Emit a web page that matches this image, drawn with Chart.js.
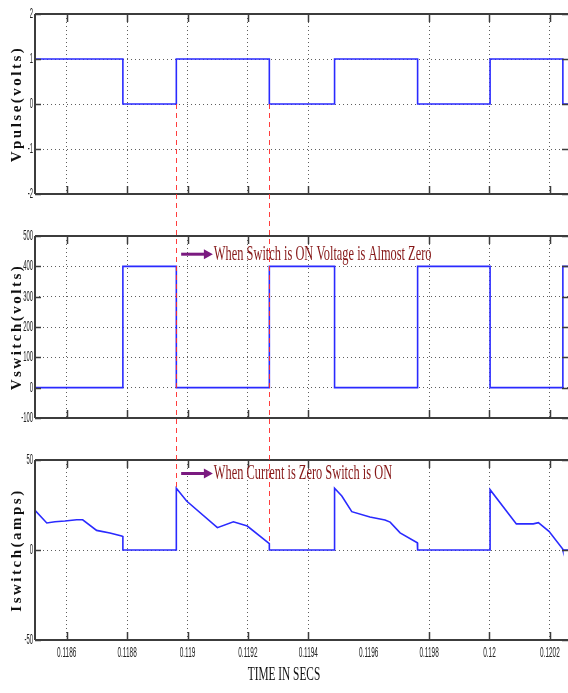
<!DOCTYPE html>
<html>
<head>
<meta charset="utf-8">
<script src="https://cdn.jsdelivr.net/npm/chart.js@4.4.1/dist/chart.umd.min.js"></script>
<style>
  html, body { margin: 0; padding: 0; background: #fff; }
  #wrap { position: relative; width: 568px; height: 693px; overflow: hidden; }
  #wrap canvas { position: absolute; left: 0; }
</style>
</head>
<body>
<div id="wrap">
  <canvas id="pulseChart" style="top:0" width="568" height="200"></canvas>
  <canvas id="vswitchChart" style="top:222px" width="568" height="202"></canvas>
  <canvas id="iswitchChart" style="top:446px" width="568" height="247"></canvas>
  <canvas id="overlay" style="top:0" width="568" height="693"></canvas>
</div>
<script>
// time window and x ticks (seconds)
const timeMin = 0.118495;
const timeMax = 0.12026;
const timeTicks = [0.1186, 0.1188, 0.119, 0.1192, 0.1194, 0.1196, 0.1198, 0.12, 0.1202];
const hiddenGridTick = 0.1196;

// gate pulse edges; each level holds from its time until the next one
const edgeTimes = [0.118495, 0.118786, 0.118963, 0.119271, 0.119487, 0.119762, 0.120002, 0.120243, 0.12026];
const pulseLevels = [1, 0, 1, 0, 1, 0, 1, 0, 0];
const switchVolts = [0, 400, 0, 400, 0, 400, 0, 400, 400];

// switch current samples
const currentTimes = [
  0.118495, 0.118534, 0.118561, 0.118594, 0.118633, 0.118653, 0.118699, 0.118743, 0.118782, 0.118786,
  0.118786, 0.118963, 0.118963, 0.118997, 0.119099, 0.119152, 0.119198, 0.119271, 0.119271,
  0.119487, 0.119487, 0.119511, 0.119544, 0.119604, 0.119654, 0.119671, 0.119704, 0.119761, 0.119762,
  0.120002, 0.120002, 0.120089, 0.120145, 0.120162, 0.120197, 0.120242, 0.120243, 0.12026
];
const currentAmps = [
  22, 15, 15.7, 16.1, 16.8, 16.8, 10.9, 9.4, 7.8, 7.5,
  0, 0, 34.3, 27.2, 12.4, 15.7, 13.3, 3.5, 0,
  0, 34.3, 30, 21.3, 18.3, 16.7, 15.5, 9.5, 4, 0,
  0, 33.5, 14.5, 14.5, 15.2, 10.4, 0.7, 0, 0
];

// y tick values of each panel
const pulseTicks = [-2, -1, 0, 1, 2];
const vswitchTicks = [-100, 0, 100, 200, 300, 400, 500];
const iswitchTicks = [-50, 0, 50];

// red markers: switch turn-on / turn-off instants, ending on the current trace
const markerTimes = [0.118963, 0.119271];
const markerAmps = [34.3, 3.5];

const notes = [
  { chart: 'vswitch', t0: 0.118979, t1: 0.119084, y: 440, text: 'When Switch is ON Voltage is Almost Zero' },
  { chart: 'iswitch', t0: 0.118979, t1: 0.119084, y: 42.5, text: 'When Current is Zero Switch is ON' }
];

const traceColor = '#2a2aff';
const gridColor = 'rgba(40,40,40,0.75)';

function xy(xs, ys) {
  return xs.map((x, i) => ({ x: x, y: ys[i] }));
}

// squeezed text helper (the figure uses very narrow lettering)
function drawText(ctx, text, x, y, opts) {
  ctx.save();
  ctx.translate(x, y);
  if (opts.rotate) ctx.rotate(opts.rotate);
  ctx.scale(opts.sx || 1, 1);
  ctx.font = opts.font;
  ctx.fillStyle = opts.color || '#111';
  ctx.textAlign = opts.align || 'left';
  ctx.textBaseline = 'middle';
  if (opts.spacing && 'letterSpacing' in ctx) ctx.letterSpacing = opts.spacing;
  ctx.fillText(text, 0, 0);
  ctx.restore();
}

// box, inward tick marks, tick labels and y title
const framePlugin = {
  id: 'frame',
  afterDraw(chart) {
    const ctx = chart.ctx;
    const a = chart.chartArea;
    const xs = chart.scales.x, ys = chart.scales.y;
    const cfg = chart.options.plugins.frame;
    ctx.save();
    ctx.strokeStyle = '#3c3c3c';
    ctx.lineWidth = 1.5;
    xs.ticks.forEach(t => {
      if (t.value === hiddenGridTick) return;
      const px = Math.round(xs.getPixelForValue(t.value)) + 0.5;
      ctx.beginPath();
      ctx.moveTo(px, a.top); ctx.lineTo(px, a.top + 8);
      ctx.moveTo(px, a.bottom); ctx.lineTo(px, a.bottom - 8);
      ctx.stroke();
    });
    ys.ticks.forEach(t => {
      const py = Math.round(ys.getPixelForValue(t.value)) + 0.5;
      ctx.beginPath();
      ctx.moveTo(a.left, py); ctx.lineTo(a.left + 6, py);
      ctx.moveTo(a.right, py); ctx.lineTo(a.right - 6, py);
      ctx.stroke();
    });
    ctx.lineWidth = 2;
    ctx.beginPath();
    ctx.moveTo(a.left, a.top); ctx.lineTo(a.right, a.top);
    ctx.moveTo(a.left, a.bottom); ctx.lineTo(a.right, a.bottom);
    ctx.moveTo(a.left, a.top); ctx.lineTo(a.left, a.bottom);
    ctx.stroke();
    ctx.restore();

    ys.ticks.forEach(t => {
      drawText(ctx, String(t.value), a.left - 2, ys.getPixelForValue(t.value),
        { font: '14px "Liberation Sans", Arial, sans-serif', color: '#222', align: 'right', sx: 0.42 });
    });
    if (cfg.showX) {
      xs.ticks.forEach(t => {
        drawText(ctx, String(+t.value.toFixed(4)), xs.getPixelForValue(t.value), a.bottom + 13,
          { font: '15px "Liberation Sans", Arial, sans-serif', color: '#222', align: 'center', sx: 0.43 });
      });
    }
    drawText(ctx, cfg.title, 17, (a.top + a.bottom) / 2, {
      rotate: -Math.PI / 2, font: 'bold 15px "Liberation Serif", serif', align: 'center', spacing: '2.5px'
    });
  }
};

function makeChart(id, data, stepped, yTicks, title, showX) {
  const yMin = yTicks[0], yMax = yTicks[yTicks.length - 1];
  return new Chart(document.getElementById(id), {
    type: 'line',
    data: {
      datasets: [{
        data: data,
        stepped: stepped,
        borderColor: traceColor,
        borderWidth: 1.6,
        pointRadius: 0,
        tension: 0,
        fill: false
      }]
    },
    options: {
      responsive: false,
      animation: false,
      events: [],
      layout: { padding: { top: 14, left: 0, right: 0, bottom: 0 } },
      plugins: { legend: { display: false }, tooltip: { enabled: false }, frame: { title: title, showX: showX } },
      scales: {
        x: {
          type: 'linear',
          min: timeMin,
          max: timeMax,
          afterBuildTicks: s => { s.ticks = timeTicks.map(v => ({ value: v })); },
          afterFit: s => { s.height = showX ? 53 : 6; },
          border: { display: false, dash: [1, 3] },
          grid: {
            drawTicks: false,
            lineWidth: 1,
            color: c => (c.tick && c.tick.value === hiddenGridTick) ? 'rgba(0,0,0,0)' : gridColor
          },
          ticks: { display: false }
        },
        y: {
          min: yMin,
          max: yMax,
          afterBuildTicks: s => { s.ticks = yTicks.map(v => ({ value: v })); },
          afterFit: s => { s.width = 35; },
          border: { display: false, dash: [1, 3] },
          grid: {
            drawTicks: false,
            lineWidth: 1,
            color: c => (c.tick && (c.tick.value === yMin || c.tick.value === yMax)) ? 'rgba(0,0,0,0)' : gridColor
          },
          ticks: { display: false }
        }
      }
    },
    plugins: [framePlugin]
  });
}

const charts = {
  pulse: makeChart('pulseChart', xy(edgeTimes, pulseLevels), true, pulseTicks, 'Vpulse(volts)', false),
  vswitch: makeChart('vswitchChart', xy(edgeTimes, switchVolts), true, vswitchTicks, 'Vswitch(volts)', false),
  iswitch: makeChart('iswitchChart', xy(currentTimes, currentAmps), false, iswitchTicks, 'Iswitch(amps)', true)
};
const chartTop = { pulse: 0, vswitch: 222, iswitch: 446 };

// markers and notes spanning the three panels
const ov = document.getElementById('overlay').getContext('2d');
const px = (name, t) => charts[name].scales.x.getPixelForValue(t);
const py = (name, v) => charts[name].scales.y.getPixelForValue(v) + chartTop[name];

ov.save();
ov.strokeStyle = 'rgba(255,40,40,0.9)';
ov.lineWidth = 1;
ov.setLineDash([5, 4]);
markerTimes.forEach((t, i) => {
  const x = Math.round(px('pulse', t)) + 0.5;
  ov.beginPath();
  ov.moveTo(x, py('pulse', 0));
  ov.lineTo(x, py('iswitch', markerAmps[i]));
  ov.stroke();
});
ov.restore();

notes.forEach(n => {
  const x0 = px(n.chart, n.t0), x1 = px(n.chart, n.t1), y = py(n.chart, n.y);
  ov.save();
  ov.strokeStyle = '#7a1a80';
  ov.fillStyle = '#7a1a80';
  ov.lineWidth = 3;
  ov.beginPath();
  ov.moveTo(x0, y); ov.lineTo(x1 - 7, y);
  ov.stroke();
  ov.beginPath();
  ov.moveTo(x1, y); ov.lineTo(x1 - 9, y - 5); ov.lineTo(x1 - 9, y + 5);
  ov.closePath();
  ov.fill();
  ov.restore();
  drawText(ov, n.text, x1 + 1, y, { font: '21px "Liberation Serif", serif', color: '#861818', sx: 0.59 });
});

drawText(ov, 'TIME IN SECS', 284, 675, { font: '18px "Liberation Serif", serif', align: 'center', sx: 0.63 });
</script>
</body>
</html>
